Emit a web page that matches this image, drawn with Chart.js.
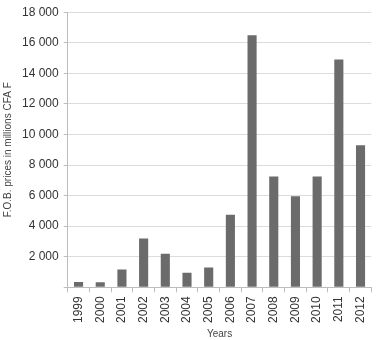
<!DOCTYPE html>
<html>
<head>
<meta charset="utf-8">
<script src="https://cdn.jsdelivr.net/npm/chart.js@4.4.1/dist/chart.umd.min.js"></script>
<style>
  body { margin: 0; background: #fff; }
  #wrap { width: 379px; height: 340px; }
</style>
</head>
<body>
<div id="wrap"><canvas id="chart" width="379" height="340"></canvas></div>
<script>
// years on x axis, FOB prices in millions CFA F
const years = ['1999', '2000', '2001', '2002', '2003', '2004', '2005', '2006',
  '2007', '2008', '2009', '2010', '2011', '2012'];
const fobPrices = [350, 330, 1170, 3200, 2200, 950, 1300, 4750,
  16500, 7250, 5950, 7250, 14900, 9300];
const yMax = 18000;
const yStep = 2000;

const fmt = v => v === 0 ? '' : String(v).replace(/\B(?=(\d{3})+(?!\d))/g, ' ');

new Chart(document.getElementById('chart'), {
  type: 'bar',
  data: {
    labels: years,
    datasets: [{
      data: fobPrices,
      backgroundColor: '#6b6b6b',
      barPercentage: 0.42,
      categoryPercentage: 1
    }]
  },
  options: {
    responsive: false,
    animation: false,
    layout: { padding: { top: 8, right: 2, left: 2, bottom: 0 } },
    plugins: { legend: { display: false }, tooltip: { enabled: false } },
    scales: {
      x: {
        grid: { display: true, drawOnChartArea: false, drawTicks: true, tickLength: 5, color: '#bdbdbd', offset: true },
        border: { color: '#bdbdbd' },
        ticks: { minRotation: 90, maxRotation: 90, color: '#333', font: { family: 'Liberation Sans', size: 12 }, padding: 4 },
        title: { display: true, text: 'Years', color: '#444', font: { family: 'Liberation Sans', size: 10 }, padding: { top: 1, bottom: 0 } }
      },
      y: {
        min: 0,
        max: yMax,
        ticks: { stepSize: yStep, callback: fmt, color: '#333', font: { family: 'Liberation Sans', size: 12 }, padding: 5 },
        grid: { color: '#dcdcdc', tickLength: 4, tickColor: '#bdbdbd' },
        border: { color: '#bdbdbd' },
        title: { display: true, text: 'F.O.B. prices in millions CFA F', color: '#444', font: { family: 'Liberation Sans', size: 10 }, padding: { top: 0, bottom: 3 } }
      }
    }
  }
});
</script>
</body>
</html>
